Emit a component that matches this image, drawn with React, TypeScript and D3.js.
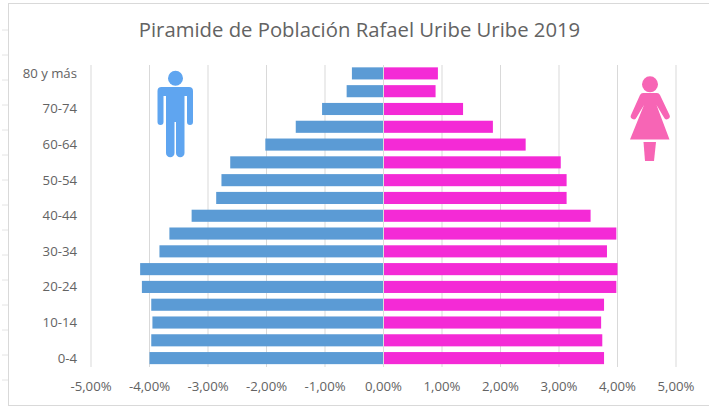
import React from "react";
import * as d3 from "d3";

const W = 709, H = 407;
const title = "Piramide de Población Rafael Uribe Uribe 2019";
const ageGroups = ["0-4","5-9","10-14","15-19","20-24","25-29","30-34","35-39","40-44","45-49","50-54","55-59","60-64","65-69","70-74","75-79","80 y más"];
const shownAges = ["0-4","10-14","20-24","30-34","40-44","50-54","60-64","70-74","80 y más"];
const male = [4.0,3.97,3.95,3.97,4.13,4.16,3.83,3.66,3.28,2.86,2.77,2.62,2.02,1.5,1.05,0.63,0.54];
const female = [3.77,3.74,3.72,3.77,3.98,4.0,3.82,3.98,3.54,3.13,3.13,3.03,2.43,1.87,1.36,0.89,0.93];
const xTicks = [-5,-4,-3,-2,-1,0,1,2,3,4,5];
const sheetRows = [30,55,80,105,130,155,180,205,230,255,280,305,330,355,380];

const fmt = (v: number) => v.toFixed(2).replace(".", ",") + "%";
const font = "'Open Sans', 'Noto Sans', sans-serif";

export default function App() {
  const x = d3.scaleLinear().domain([-5, 5]).range([91, 676]);
  const y = d3.scaleBand().domain([...ageGroups].reverse()).range([64.5, 367]);
  const barH = y.bandwidth() * 0.68;
  const barY = (a: string) => (y(a) as number) + (y.bandwidth() - barH) / 2;
  return (
    <svg width={W} height={H} style={{ position: "absolute", left: 0, top: 0, background: "#fff" }}>
      {sheetRows.map((r) => (
        <line key={r} x1={2} x2={8} y1={r} y2={r} stroke="#e4e4e4" />
      ))}
      <rect x={8.5} y={3.5} width={760} height={402} fill="#fff" stroke="#d9d9d9" />
      <text x={359.5} y={37} textAnchor="middle" fontFamily={font} fontSize={20.3} fill="#636363">{title}</text>
      {xTicks.map((t) => (
        <g key={t}>
          <line x1={x(t)} x2={x(t)} y1={65} y2={367} stroke="#d9d9d9" />
          <text x={x(t)} y={391} textAnchor="middle" fontFamily={font} fontSize={13.2} fill="#636363">{fmt(t)}</text>
        </g>
      ))}
      {ageGroups.map((a, i) => (
        <g key={a}>
          <rect x={x(-male[i])} y={barY(a)} width={x(0) - x(-male[i])} height={barH} fill="#5b9bd5" />
          <rect x={x(0)} y={barY(a)} width={x(female[i]) - x(0)} height={barH} fill="#f42ad6" />
        </g>
      ))}
      <line x1={x(0)} x2={x(0)} y1={65} y2={367} stroke="#dcdcdc" />
      {shownAges.map((a) => (
        <text key={a} x={77} y={(y(a) as number) + y.bandwidth() / 2 + 4.5} textAnchor="end" fontFamily={font} fontSize={13.2} fill="#636363">{a}</text>
      ))}
      <g fill="#5fa5f0">
        <circle cx={175.5} cy={78.3} r={7.5} />
        <path d="M161.5 87 H189 a4 4 0 0 1 4 4 V122 a3 3 0 0 1 -6 0 V96 h-2.5 V153 a4 4 0 0 1 -8.5 0 V122 h-1.5 V153 a4 4 0 0 1 -8.5 0 V96 h-2.5 V122 a3 3 0 0 1 -6 0 V91 a4 4 0 0 1 4 -4 Z" />
      </g>
      <g fill="#f765b5">
        <circle cx={650} cy={84.3} r={8} />
        <path d="M643 93 H657 Q659 93 660 95 L669.5 115 a3 3 0 0 1 -5.5 2.5 L656.5 105 L669.5 139.5 H630 L644 105 L636.5 117.5 a3 3 0 0 1 -5.5 -2.5 L640 95 Q641 93 643 93 Z" />
        <path d="M643.5 142 H656 L654 161 H645 Z" />
      </g>
    </svg>
  );
}
